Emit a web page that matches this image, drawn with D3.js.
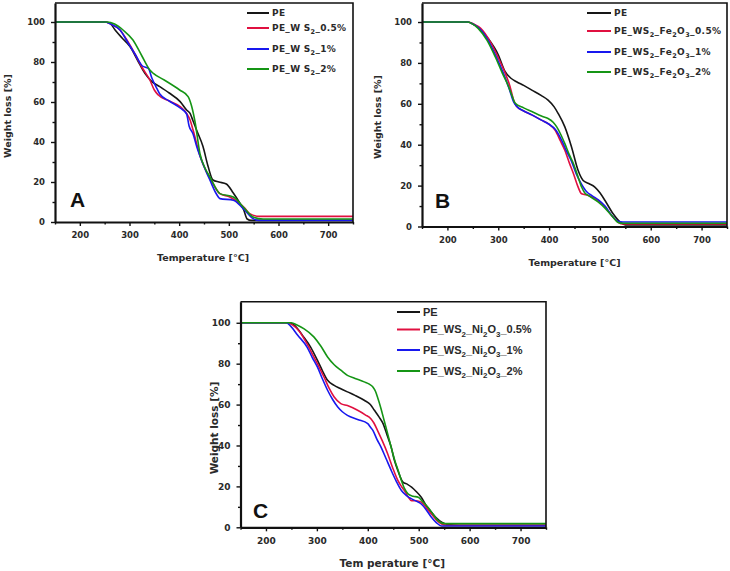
<!DOCTYPE html>
<html><head><meta charset="utf-8">
<script src="https://cdn.jsdelivr.net/npm/d3@7"></script>
<style>
html,body{margin:0;padding:0;background:#fff;}
svg{display:block;}
</style></head>
<body>
<svg id="c" width="730" height="571"></svg>
<script>
// ---------- data ----------
const xTicks = [200, 300, 400, 500, 600, 700];
const xMinor = [150, 250, 350, 450, 550, 650, 750];
const yTicks = [0, 20, 40, 60, 80, 100];
const yMinor = [10, 30, 50, 70, 90];
const seriesColors = ["#161616", "#e01040", "#1818ee", "#159515"];

const legendA = ["PE", "PE_W S{2}_0.5%", "PE_W S{2}_1%", "PE_W S{2}_2%"];
const legendB = ["PE", "PE_WS{2}_Fe{2}O{3}_0.5%", "PE_WS{2}_Fe{2}O{3}_1%", "PE_WS{2}_Fe{2}O{3}_2%"];
const legendC = ["PE", "PE_WS{2}_Ni{2}O{3}_0.5%", "PE_WS{2}_Ni{2}O{3}_1%", "PE_WS{2}_Ni{2}O{3}_2%"];

// Panel A  [temperature °C, weight %]
const A_PE = [[150,100],[250,100],[260,99.5],[271,96],[285,92],[301,87.7],[316,81],[331,74.3],[345,70.2],[361,67.7],[380,64.5],[402,60.2],[415,56],[422,54.3],[428,50.5],[435,46],[448,37.7],[458,28],[468,21],[480,20],[495,19],[509,14.5],[522,9.5],[530,6],[537,1.5],[545,0.8],[750,0.8]];
const A_05 = [[150,100],[250,100],[262,99],[281,96],[296,90.5],[311,84],[326,77],[341,71],[350,66],[358,63.5],[380,60.5],[402,57.7],[415,54.3],[422,51],[428,46],[442,33],[455,25],[468,19.2],[482,14.2],[502,12.5],[522,9.2],[532,7],[542,4.2],[562,2.8],[750,2.8]];
const A_1 = [[150,100],[250,100],[262,99],[281,96],[296,90],[311,84],[326,78],[338,76.8],[345,72],[355,66.8],[361,64],[380,60.5],[402,57],[415,54],[420,48],[428,44],[435,38],[448,29],[462,20.9],[475,14],[482,11.7],[509,10.9],[529,6.7],[549,1.7],[560,0.8],[750,0.8]];
const A_2 = [[150,100],[255,100],[270,99],[287,96],[307,91],[325,83],[341,76],[348,74.3],[370,71],[401,66],[418,62.7],[425,58],[432,50],[442,34],[452,27],[462,22.5],[482,14.2],[509,12.5],[529,7.5],[549,2.5],[569,1.5],[750,1.5]];

// Panel B
const B_PE = [[150,100],[240,100],[250,99],[262,97],[280,92],[300,84],[313,76],[325,72.5],[336,70.8],[350,69],[366,66.7],[385,64],[398,61.8],[410,58.5],[418,55.2],[431,48.7],[444,39],[457,27.5],[467,22.5],[478,21],[490,19.3],[500,16.5],[510,12.7],[526,6.2],[540,2.1],[550,0.8],[750,0.8]];
const B_05 = [[150,100],[240,100],[252,99],[265,97],[285,90],[300,82.5],[312,76],[323,68.6],[330,62],[336,58.8],[350,56.5],[366,54.6],[385,52],[398,50.3],[412,47],[422,42],[431,37.3],[440,31],[448,25.8],[456,20],[464,16],[477,15.2],[497,12.7],[510,9.5],[523,5.4],[536,2.1],[545,1.2],[750,1.2]];
const B_1 = [[150,100],[240,100],[250,99],[262,97],[280,91],[296,83],[310,75],[322,67],[330,61],[336,58.8],[350,56.5],[366,54.6],[385,52],[400,50],[412,47.5],[425,42],[434,37],[444,32],[453,26],[461,22],[474,17],[485,15],[497,13],[510,10],[523,5.5],[536,2.5],[545,2.2],[750,2.2]];
const B_2 = [[150,100],[240,100],[250,99],[260,97],[278,91],[294,83],[308,75],[320,68.6],[327,64],[333,60.4],[350,58],[366,56.2],[385,54],[398,52.8],[408,51],[415,48.7],[423,45],[431,40.5],[440,35],[448,30.7],[456,25],[464,19.3],[470,16.5],[477,15.2],[497,11.9],[510,9],[523,5.4],[536,2],[545,1.6],[750,1.6]];

// Panel C
const C_PE = [[150,100],[245,100],[255,99],[274,93.1],[288,88],[301,81.7],[311,76.5],[321,71.9],[334,69.4],[345,68],[360,66.2],[375,64.5],[393,62.1],[405,60],[413,57.2],[422,54],[430,50.7],[438,45],[446,39.2],[452,33],[459,27.8],[469,22.1],[478,21],[486,19.6],[495,17.5],[505,14.7],[515,10.5],[525,7.4],[535,4.5],[545,2.5],[558,1.3],[580,1],[750,1]];
const C_05 = [[150,100],[240,100],[252,99],[265,96],[280,90],[294,83.3],[304,78.5],[314,73.5],[324,68],[334,63.7],[347,60.5],[360,59.5],[380,57.2],[395,55],[406,53.1],[412,51],[419,47.4],[429,42],[439,36],[449,29],[459,22.9],[466,20],[472,18],[479,15],[486,13],[495,13],[505,12.3],[515,9.5],[525,6.5],[535,3.5],[545,1.6],[555,1],[750,1]];
const C_1 = [[150,100],[240,100],[248,98.5],[262,94],[281,88],[291,83],[301,78.4],[311,72.5],[321,67],[331,62.5],[341,58.8],[350,56.5],[360,54.7],[380,52.7],[400,50.7],[405,49],[410,47.4],[418,43],[426,39.2],[436,33.5],[446,27.8],[456,22.5],[466,18],[476,15.5],[486,13.9],[495,12.8],[505,11.4],[515,8.5],[525,4.9],[535,2.2],[545,0.6],[750,0.6]];
const C_2 = [[150,100],[250,100],[261,98.9],[275,97],[294,93.1],[308,88.5],[321,83.3],[334,79.5],[347,76.8],[360,74.3],[375,72.8],[393,71.1],[403,70],[410,68.6],[415,66.5],[419,63.7],[426,58],[432,52.3],[439,45.8],[446,39],[453,32.7],[460,27.5],[466,22.9],[472,19],[479,16.3],[489,15.2],[499,14.7],[508,12.5],[518,9.8],[528,6.5],[538,3.3],[551,1.8],[750,1.8]];

// ---------- drawing ----------
const svg = d3.select("#c");
const WIDE = "'DejaVu Sans', Verdana, sans-serif";
const NARROW = "'Liberation Sans', Arial, sans-serif";

function addRich(textSel, str, fs) {
  const parts = str.split(/(\{[^}]*\})/);
  let sub = false;
  parts.forEach(p => {
    if (!p) return;
    if (p[0] === "{") {
      textSel.append("tspan").attr("dy", fs*0.3).style("font-size", (fs*0.72) + "px").text(p.slice(1,-1));
      sub = true;
    } else {
      const t = textSel.append("tspan").text(p);
      if (sub) { t.attr("dy", -fs*0.3); sub = false; }
    }
  });
}

function panel(cfg) {
  const x = d3.scaleLinear().domain([150, 750]).range([cfg.x0, cfg.x1]);
  const y = d3.scaleLinear().domain([0, cfg.ymax]).range([cfg.y0, cfg.y1]);
  const g = svg.append("g");
  const id = "clip" + cfg.letter;
  svg.append("clipPath").attr("id", id).append("rect")
    .attr("x", cfg.x0).attr("y", cfg.y1).attr("width", cfg.x1 - cfg.x0).attr("height", cfg.y0 - cfg.y1);

  const line = d3.line().x(d => x(d[0])).y(d => y(d[1])).curve(d3.curveMonotoneX);
  const plot = g.append("g").attr("clip-path", `url(#${id})`);
  cfg.series.forEach((s, i) => {
    plot.append("path").datum(s).attr("d", line).attr("fill", "none")
      .attr("stroke", seriesColors[i]).attr("stroke-width", cfg.lw).attr("stroke-linejoin", "round");
  });

  g.append("path").attr("d", `M${cfg.x0},${cfg.y1}H${cfg.x1}V${cfg.y0}`)
    .attr("fill", "none").attr("stroke", "#111").attr("stroke-width", 1.6);

  const fs = cfg.tickFs;
  const xa = g.append("g").attr("transform", `translate(0,${cfg.y0})`)
    .call(d3.axisBottom(x).tickValues(xTicks).tickSize(4).tickPadding(cfg.xPad).tickSizeOuter(0));
  const xm = g.append("g").attr("transform", `translate(0,${cfg.y0})`)
    .call(d3.axisBottom(x).tickValues(xMinor).tickFormat("").tickSize(2.5).tickSizeOuter(0));
  const ya = g.append("g").attr("transform", `translate(${cfg.x0},0)`)
    .call(d3.axisLeft(y).tickValues(yTicks).tickSize(4).tickPadding(6).tickSizeOuter(0));
  const ym = g.append("g").attr("transform", `translate(${cfg.x0},0)`)
    .call(d3.axisLeft(y).tickValues(yMinor).tickFormat("").tickSize(2.5).tickSizeOuter(0));
  [xm, ym].forEach(a => a.select(".domain").remove());
  [xa, ya, xm, ym].forEach(a => a.attr("font-family", null).attr("font-size", null));
  [xa, ya].forEach(a => a.select(".domain").attr("stroke", "#111").attr("stroke-width", 2.2));
  [xa, ya, xm, ym].forEach(a => a.selectAll(".tick line").attr("stroke", "#111").attr("stroke-width", 1.4));
  [xa, ya].forEach(a => a.selectAll(".tick text")
    .style("font-size", fs + "px").style("font-weight", "bold")
    .style("font-family", WIDE).attr("fill", "#2a2a2a"));

  g.append("text").attr("x", (cfg.x0 + cfg.x1) / 2 + cfg.xtDx).attr("y", cfg.xtY)
    .attr("text-anchor", "middle").style("font-size", cfg.titleFs + "px").style("font-weight", "bold")
    .style("font-family", WIDE).attr("fill", "#2a2a2a").text(cfg.xTitle);
  g.append("text").attr("transform", `translate(${cfg.ytX},${cfg.ytY}) rotate(-90)`)
    .attr("text-anchor", "middle").style("font-size", cfg.titleFs + "px").style("font-weight", "bold")
    .style("font-family", WIDE).attr("fill", "#2a2a2a").text("Weight loss [%]");

  g.append("text").attr("x", cfg.lx).attr("y", cfg.ly).style("font-size", "21px")
    .style("font-weight", "bold").style("font-family", NARROW).attr("fill", "#111").text(cfg.letter);

  cfg.legend.forEach((lab, i) => {
    const yy = cfg.legY[i];
    g.append("line").attr("x1", cfg.legX0).attr("x2", cfg.legX1).attr("y1", yy).attr("y2", yy)
      .attr("stroke", seriesColors[i]).attr("stroke-width", 2);
    const t = g.append("text").attr("x", cfg.legX1 + 3).attr("y", yy + cfg.legFs * 0.36)
      .style("font-size", cfg.legFs + "px").style("font-weight", "bold").style("font-family", cfg.legFont)
      .style("letter-spacing", cfg.legLs + "px").attr("fill", "#2a2a2a");
    addRich(t, lab, cfg.legFs);
  });
}

panel({letter: "A", x0: 55, x1: 353, y0: 222, y1: 3, ymax: 109.5, lw: 1.6,
  series: [A_PE, A_05, A_1, A_2], legend: legendA, legFont: WIDE, legLs: 0.3,
  legX0: 247, legX1: 269, legY: [13, 28, 49, 69], legFs: 9,
  tickFs: 8.5, xPad: 6, titleFs: 9.5, xTitle: "Temperature [°C]", xtDx: -1, xtY: 261,
  ytX: 11, ytY: 116, lx: 70, ly: 207});

panel({letter: "B", x0: 422, x1: 727, y0: 226.5, y1: 3, ymax: 109.3, lw: 1.6,
  series: [B_PE, B_05, B_1, B_2], legend: legendB, legFont: WIDE, legLs: 0.4,
  legX0: 587, legX1: 611, legY: [13, 31, 52, 72], legFs: 9,
  tickFs: 8.5, xPad: 6, titleFs: 9.5, xTitle: "Temperature [°C]", xtDx: 0, xtY: 266,
  ytX: 381, ytY: 117, lx: 435, ly: 208});

panel({letter: "C", x0: 240.5, x1: 546, y0: 527.3, y1: 301.7, ymax: 110.3, lw: 1.6,
  series: [C_PE, C_05, C_1, C_2], legend: legendC, legFont: NARROW, legLs: 0,
  legX0: 397, legX1: 420, legY: [312, 329.5, 350, 371], legFs: 11,
  tickFs: 9, xPad: 6, titleFs: 10.5, xTitle: "Tem perature [°C]", xtDx: -1, xtY: 567,
  ytX: 218, ytY: 428, lx: 253, ly: 518});
</script>
</body></html>
